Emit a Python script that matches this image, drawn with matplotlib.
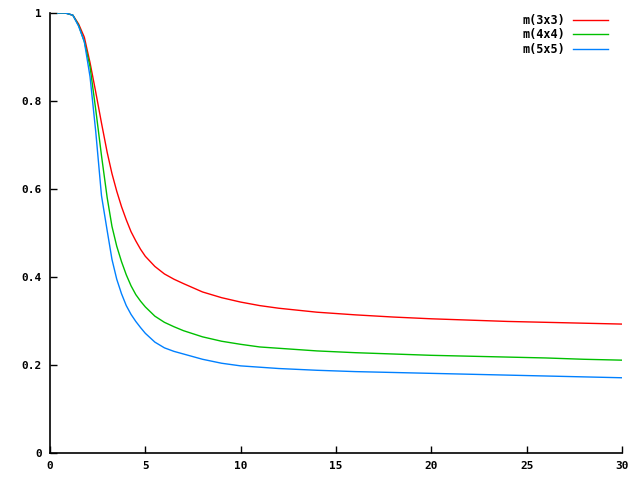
import matplotlib
matplotlib.use("Agg")
import matplotlib.pyplot as plt

x = [0.4, 0.8, 1.2, 1.5, 1.8, 2.1, 2.4, 2.7, 3.0, 3.25, 3.5, 3.75, 4.0, 4.25, 4.5, 4.75, 5.0, 5.5, 6, 6.5, 7, 8, 9, 10, 11, 12, 14, 16, 18, 20, 22, 24, 26, 28, 30]
m3 = [1.0, 1.0, 0.995, 0.975, 0.945, 0.887, 0.82, 0.75, 0.683, 0.635, 0.595, 0.56, 0.53, 0.503, 0.482, 0.463, 0.447, 0.424, 0.407, 0.395, 0.385, 0.366, 0.353, 0.343, 0.335, 0.329, 0.32, 0.314, 0.309, 0.305, 0.302, 0.299, 0.297, 0.295, 0.293]
m4 = [1.0, 1.0, 0.995, 0.972, 0.935, 0.878, 0.78, 0.676, 0.58, 0.515, 0.47, 0.435, 0.405, 0.38, 0.36, 0.345, 0.332, 0.311, 0.297, 0.287, 0.278, 0.264, 0.254, 0.247, 0.241, 0.238, 0.232, 0.228, 0.225, 0.222, 0.22, 0.218, 0.216, 0.213, 0.211]
m5 = [1.0, 1.0, 0.995, 0.97, 0.935, 0.855, 0.73, 0.585, 0.505, 0.44, 0.395, 0.362, 0.335, 0.315, 0.299, 0.285, 0.272, 0.252, 0.239, 0.231, 0.225, 0.213, 0.204, 0.198, 0.195, 0.192, 0.188, 0.185, 0.183, 0.181, 0.179, 0.177, 0.175, 0.173, 0.171]
labels = ["m(3x3)", "m(4x4)", "m(5x5)"]
colors = ["#ff0000", "#00c000", "#0080ff"]
xticks = [0, 5, 10, 15, 20, 25, 30]
yticks = [0, 0.2, 0.4, 0.6, 0.8, 1]
yticklabels = ["0", "0.2", "0.4", "0.6", "0.8", "1"]

fig = plt.figure(figsize=(6.4, 4.8), dpi=100)
ax = fig.add_axes([50/640, 27/480, 572/640, 440/480])
for ys, lab, c in zip([m3, m4, m5], labels, colors):
    ax.plot(x, ys, color=c, lw=1, label=lab)
ax.set_xlim(0, 30)
ax.set_ylim(0, 1)
ax.spines["top"].set_visible(False)
ax.spines["right"].set_visible(False)
ax.spines["left"].set_linewidth(1.2)
ax.spines["bottom"].set_linewidth(1.2)
ax.set_xticks(xticks)
ax.set_yticks(yticks)
ax.set_yticklabels(yticklabels)
font = dict(family="DejaVu Sans Mono", weight="bold", size=8.5)
ax.tick_params(direction="in", length=5, width=1, pad=6)
for lbl in ax.get_xticklabels() + ax.get_yticklabels():
    lbl.set_fontfamily("DejaVu Sans Mono")
    lbl.set_fontweight("bold")
    lbl.set_fontsize(8)
leg = ax.legend(loc="upper right", bbox_to_anchor=(558/572, 0.998), frameon=False,
                markerfirst=False, handlelength=3.0, handletextpad=0.6,
                labelspacing=0.12, borderaxespad=0.0, borderpad=0.0, prop=font)
fig.savefig("out.png", dpi=100)
